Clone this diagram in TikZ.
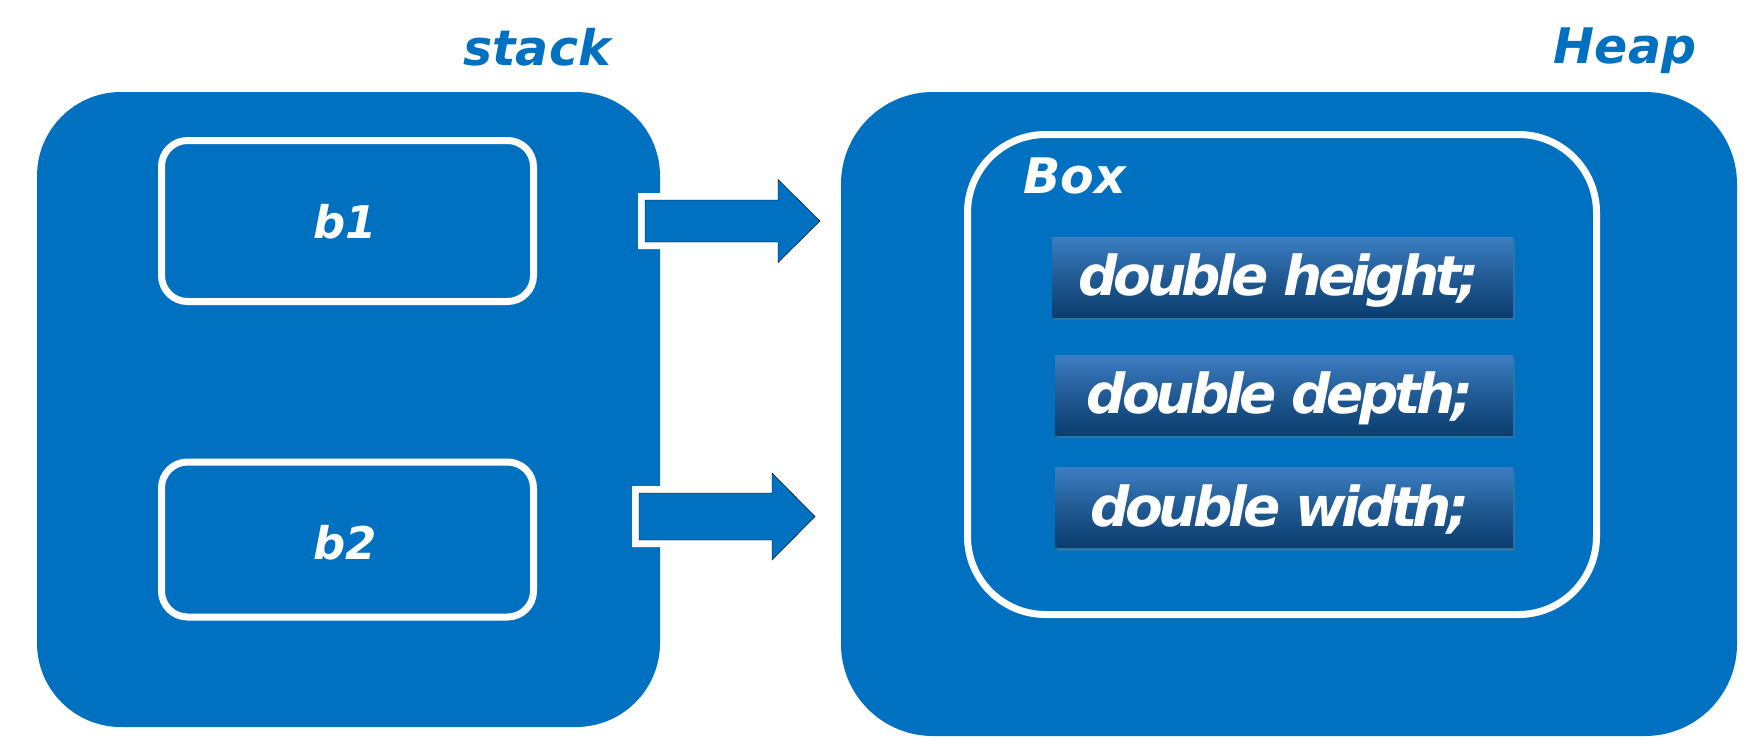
\documentclass[tikz,border=0pt]{standalone}
\usepackage{fontspec}
\setmainfont{DejaVu Sans}
\newfontfamily\fieldfont[LetterSpace=-8]{DejaVu Sans}
\usetikzlibrary{calc,shadows}
\definecolor{memblue}{HTML}{0070C0}
\definecolor{fieldtop}{HTML}{3C7EC2}
\definecolor{fieldbot}{HTML}{0B3D6E}
\newcommand{\labelfont}[1]{\fontsize{#1}{#1}\selectfont\bfseries\itshape}
\newcommand{\memberfont}{\fieldfont\fontsize{55}{55}\selectfont\bfseries\itshape}
\tikzset{
  region/.style={fill=memblue, draw=none, inner sep=0pt},
  varbox/.style={draw=white, line width=7pt, fill=memblue, rounded corners=26pt,
    minimum width=372pt, inner sep=0pt},
  objbox/.style={draw=white, line width=7pt, fill=memblue, rounded corners=78pt,
    inner sep=0pt, minimum width=629pt, minimum height=480pt},
  field/.style={top color=fieldtop, bottom color=fieldbot, middle color=fieldtop!45!fieldbot,
    inner sep=0pt, minimum height=80pt,
    drop shadow={shadow xshift=2pt, shadow yshift=-3pt, opacity=0.35}},
  fieldtext/.style={text=white, font=\memberfont, anchor=base, inner sep=0pt},
  wlabel/.style={text=white, anchor=base, inner sep=0pt},
  title/.style={text=memblue, font=\labelfont{49}, anchor=base, inner sep=0pt},
  flowarrow/.style={fill=memblue, line join=miter,
    preaction={draw=white, line width=14pt, line join=miter}},
}
\begin{document}
\begin{tikzpicture}[x=1pt, y=-1pt]
  \fill[white] (0,0) rectangle (1759,755);
  \useasboundingbox (0,0) rectangle (1759,755);

  % stack and heap regions
  \node[region, rounded corners=84pt, minimum width=623pt, minimum height=635pt] (stack) at (348.5,409.5) {};
  \node[region, rounded corners=92pt, minimum width=896pt, minimum height=644pt] (heap) at (1289,414) {};

  \node[title] (stacklbl) at (537,65) {stack};
  \node[title] (heaplbl) at (1625,63) {Heap};

  % reference variables on the stack
  \node[varbox, minimum height=161pt] (b1) at (347.5,221) {};
  \node[wlabel, font=\labelfont{45}] (b1t) at (345,238) {b1};
  \node[varbox, minimum height=155pt] (b2) at (347.5,539.5) {};
  \node[wlabel, font=\labelfont{45}] (b2t) at (345,559) {b2};

  % object on the heap
  \node[objbox] (box) at (1282,374.5) {};
  \node[wlabel, font=\labelfont{49}] (boxlbl) at (1074.5,193) {Box};

  \node[field, minimum width=461pt] (fh) at (1282.5,277) {};
  \node[fieldtext] (fht) at (1279,295) {double height;};
  \node[field, minimum width=458pt] (fd) at (1284,395) {};
  \node[fieldtext] (fdt) at (1280,413) {double depth;};
  \node[field, minimum width=458pt] (fw) at (1284,507.5) {};
  \node[fieldtext] (fwt) at (1280,526) {double width;};

  % references pointing into the heap
  \coordinate (a1s) at (645,221);
  \coordinate (a1e) at (820,221);
  \coordinate (a2s) at (639,516.5);
  \coordinate (a2e) at (815,516.5);

  \draw[flowarrow] ($(a1s)+(0,-21)$) -- ($(a1s)+(133,-21)$) -- ($(a1s)+(133,-41.5)$)
    -- (a1e) -- ($(a1s)+(133,41.5)$) -- ($(a1s)+(133,21)$) -- ($(a1s)+(0,21)$) -- cycle;
  \draw[flowarrow] ($(a2s)+(0,-23.5)$) -- ($(a2s)+(133,-23.5)$) -- ($(a2s)+(133,-43.5)$)
    -- (a2e) -- ($(a2s)+(133,43.5)$) -- ($(a2s)+(133,23.5)$) -- ($(a2s)+(0,23.5)$) -- cycle;
\end{tikzpicture}
\end{document}
